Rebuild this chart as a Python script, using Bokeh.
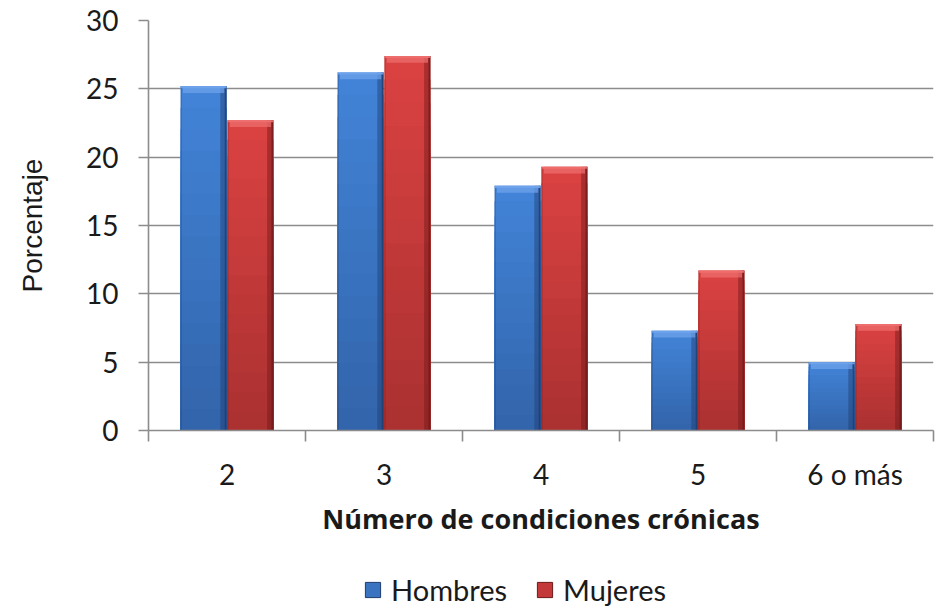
import numpy as np
from bokeh.plotting import figure
from bokeh.layouts import column
from bokeh.models import FixedTicker, Legend, LegendItem, Range1d, ColumnDataSource
from bokeh.embed import file_html
from bokeh.resources import INLINE

categories = ["2", "3", "4", "5", "6 o más"]
hombres = [25.2, 26.2, 17.9, 7.3, 5.0]
mujeres = [22.7, 27.4, 19.3, 11.7, 7.8]
series_names = ["Hombres", "Mujeres"]
y_ticks = [0, 5, 10, 15, 20, 25, 30]

W, H_MAIN, H_LEG = 940, 545, 62
p = figure(width=W, height=H_MAIN, output_backend="svg", toolbar_location=None,
           x_range=Range1d(0, len(categories)), y_range=Range1d(0, 30),
           min_border_left=148, min_border_right=7, min_border_top=20,
           min_border_bottom=115)
p.outline_line_color = None
p.background_fill_color = "white"
p.border_fill_color = "white"

GRID = "#8c8c8c"
p.xgrid.grid_line_color = None
p.ygrid.grid_line_color = GRID
p.ygrid.grid_line_width = 1.6
p.ygrid.ticker = FixedTicker(ticks=y_ticks)

# y axis
p.yaxis.ticker = FixedTicker(ticks=y_ticks)
p.yaxis.axis_line_color = GRID
p.yaxis.axis_line_width = 1.6
p.yaxis.major_tick_line_color = GRID
p.yaxis.major_tick_line_width = 1.6
p.yaxis.major_tick_out = 10
p.yaxis.major_tick_in = 0
p.yaxis.minor_tick_line_color = None
p.yaxis.major_label_text_font = "Lato"
p.yaxis.major_label_text_font_size = "28px"
p.yaxis.major_label_text_color = "#1a1a1a"
p.yaxis.major_label_standoff = 20
p.yaxis.axis_label = "Porcentaje"
p.yaxis.axis_label_text_font = "Liberation Sans"
p.yaxis.axis_label_text_font_size = "28px"
p.yaxis.axis_label_text_font_style = "normal"
p.yaxis.axis_label_text_color = "#1a1a1a"
p.yaxis.axis_label_standoff = 35

# x axis: labels at category centres, ticks at boundaries
idx = np.arange(len(categories))
centers = (idx + 0.5).tolist()
bounds = list(range(len(categories) + 1))
p.xaxis.ticker = FixedTicker(ticks=centers, minor_ticks=bounds)
p.xaxis.major_label_overrides = {c: lab for c, lab in zip(centers, categories)}
p.xaxis.axis_line_color = GRID
p.xaxis.axis_line_width = 1.6
p.xaxis.major_tick_line_color = None
p.xaxis.major_tick_out = 0
p.xaxis.major_tick_in = 0
p.xaxis.minor_tick_line_color = GRID
p.xaxis.minor_tick_line_width = 1.6
p.xaxis.minor_tick_out = 11
p.xaxis.minor_tick_in = 0
p.xaxis.major_label_text_font = "Lato"
p.xaxis.major_label_text_font_size = "28px"
p.xaxis.major_label_text_color = "#1a1a1a"
p.xaxis.major_label_standoff = 15
p.xaxis.axis_label = "Número de condiciones crónicas"
p.xaxis.axis_label_text_font = "Open Sans"
p.xaxis.axis_label_text_font_size = "27px"
p.xaxis.axis_label_text_font_style = "bold"
p.xaxis.axis_label_text_color = "#1a1a1a"
p.xaxis.axis_label_standoff = 6

BW = 0.293
OFF = 0.149

BLUE = dict(top=(66, 132, 216), bot=(50, 100, 170), dark=(30, 60, 110), light=(112, 164, 236))
RED = dict(top=(220, 66, 66), bot=(170, 48, 48), dark=(110, 25, 25), light=(238, 112, 112))


def hexcol(c):
    return "#%02x%02x%02x" % tuple(int(round(v)) for v in c)


def draw_series(xs, vals, pal):
    xs = np.asarray(xs)
    vals = np.asarray(vals, dtype=float)
    n = 16
    # vertical gradient: overlapping bars from tallest fraction to shortest
    for k in range(n - 1, -1, -1):
        f1 = (k + 1) / n
        t = (k + 0.5) / n
        col = [b + (a - b) * t for a, b in zip(pal["top"], pal["bot"])]
        p.vbar(x=xs, width=BW, bottom=0, top=vals * f1,
               fill_color=hexcol(col), line_color=None)
    # right-edge shading
    p.vbar(x=xs + BW / 2 - 0.02, width=0.04, bottom=0, top=vals,
           fill_color=hexcol(pal["dark"]), fill_alpha=0.45, line_color=None)
    p.vbar(x=xs + BW / 2 - 0.006, width=0.012, bottom=0, top=vals,
           fill_color=hexcol(pal["dark"]), fill_alpha=0.75, line_color=None)
    # left-edge thin line
    p.vbar(x=xs - BW / 2 + 0.004, width=0.008, bottom=0, top=vals,
           fill_color=hexcol(pal["dark"]), fill_alpha=0.3, line_color=None)
    # top bevel highlight
    p.vbar(x=xs, width=BW - 0.03, bottom=vals - 0.5, top=vals,
           fill_color=hexcol(pal["light"]), fill_alpha=0.7, line_color=None)
    p.vbar(x=xs, width=BW, bottom=vals - 0.15, top=vals,
           fill_color=hexcol(pal["light"]), fill_alpha=0.9, line_color=None)


draw_series(idx + 0.5 - OFF, hombres, BLUE)
draw_series(idx + 0.5 + OFF, mujeres, RED)

# legend strip below the chart (frame aligned with main chart's frame)
lg = figure(width=W, height=H_LEG, output_backend="svg", toolbar_location=None,
            x_range=Range1d(0, 1), y_range=Range1d(0, 1),
            min_border_left=148, min_border_right=7, min_border_top=0,
            min_border_bottom=0)
lg.axis.visible = False
lg.grid.visible = False
lg.outline_line_color = None
lg.border_fill_color = "white"
items = []
for name, pal in zip(series_names, [BLUE, RED]):
    mid = [(a + b) / 2 for a, b in zip(pal["top"], pal["bot"])]
    # the swatch glyph sits outside the visible range; only its legend entry shows
    src = ColumnDataSource(dict(l=[-6.0], r=[-5.0], b=[-6.0], t=[-5.0]))
    r = lg.quad(left="l", right="r", bottom="b", top="t", source=src,
                fill_color=hexcol(mid), line_color=hexcol(pal["dark"]),
                line_width=1)
    items.append(LegendItem(label=name, renderers=[r]))

legend = Legend(items=items, location=(215, 0), orientation="horizontal")
legend.label_text_font = "Lato"
legend.label_text_font_size = "29px"
legend.label_text_color = "#1a1a1a"
legend.glyph_width = 19
legend.glyph_height = 19
legend.label_standoff = 9
legend.spacing = 28
legend.padding = 0
legend.margin = 0
legend.border_line_color = None
legend.background_fill_alpha = 0
lg.add_layout(legend, "center")

layout = column(p, lg, spacing=0)
open("out.html", "w").write(file_html(layout, INLINE))
